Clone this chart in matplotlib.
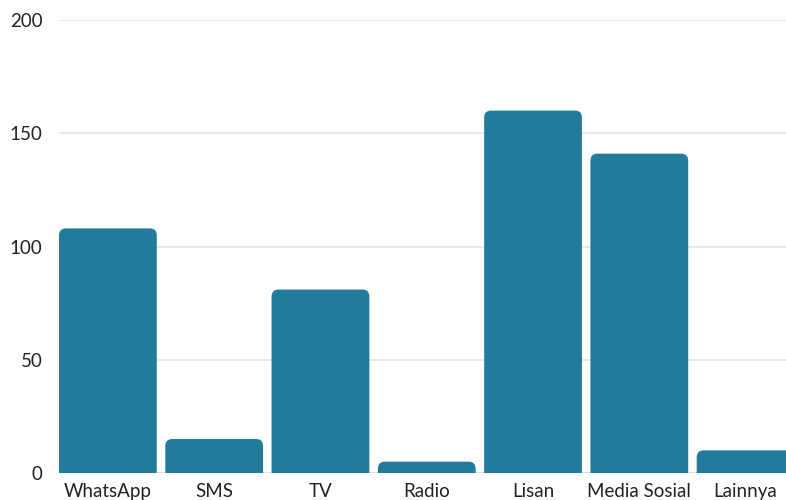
import matplotlib
matplotlib.use("Agg")
import matplotlib.pyplot as plt
from matplotlib.patches import FancyBboxPatch

categories = ["WhatsApp", "SMS", "TV", "Radio", "Lisan", "Media Sosial", "Lainnya"]
values = [108, 15, 81, 5, 160, 141, 10]
y_ticks = [0, 50, 100, 150, 200]

bar_color = "#237b9b"
bar_width = 0.92

plt.rcParams["font.family"] = ["Lato", "DejaVu Sans"]

W, H = 786, 500
fig = plt.figure(figsize=(W / 100, H / 100), dpi=100)
ax_left, ax_bottom, ax_w, ax_h = 59, 27, 727, 453
ax = fig.add_axes([ax_left / W, ax_bottom / H, ax_w / W, ax_h / H])

xlim = (-0.46, 6.38)
ylim = (0, 200)
ax.set_xlim(*xlim)
ax.set_ylim(*ylim)

# pixels per data unit, used to keep the corner radius round
px_x = ax_w / (xlim[1] - xlim[0])
px_y = ax_h / (ylim[1] - ylim[0])
radius_px = 7
rx = radius_px / px_x
aspect = px_x / px_y

for i, v in enumerate(categories):
    val = values[i]
    # start below zero so the lower corners get clipped by the axes
    y0 = -10
    box = FancyBboxPatch((i - bar_width / 2, y0), bar_width, val - y0,
                         boxstyle=f"round,pad=0,rounding_size={rx}",
                         mutation_aspect=aspect,
                         facecolor=bar_color, edgecolor="none", zorder=3)
    ax.add_patch(box)

ax.set_yticks(y_ticks)
ax.set_yticklabels([str(t) for t in y_ticks])
ax.set_xticks(range(len(categories)))
ax.set_xticklabels(categories)

ax.grid(axis="y", color="#e4e4e4", linewidth=1.2, zorder=0)
ax.axhline(0, color="#cccccc", linewidth=1.5, zorder=1)
for s in ax.spines.values():
    s.set_visible(False)
ax.tick_params(axis="both", length=0, labelsize=13.5, colors="#222222")
ax.tick_params(axis="y", pad=12)
ax.tick_params(axis="x", pad=7)

fig.savefig("out.png", dpi=100)
